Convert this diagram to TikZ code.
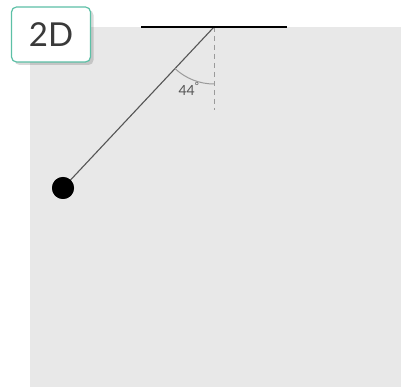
\documentclass[tikz,border=0pt]{standalone}
\usepackage{fontspec}
\setmainfont{Lato}
\usetikzlibrary{shadows,calc}
\definecolor{bg}{HTML}{E8E8E8}
\definecolor{teal2}{HTML}{5CC0A6}
\definecolor{txt}{HTML}{3A3A3A}
\definecolor{rod}{HTML}{555555}
\definecolor{guide}{HTML}{9A9A9A}
\tikzset{
  tagbox/.style={draw=teal2, line width=1.2pt, fill=white, rounded corners=5pt,
    minimum width=79pt, minimum height=55pt, inner sep=0pt, text=txt,
    font=\fontsize{33}{33}\selectfont,
    drop shadow={shadow xshift=3pt, shadow yshift=-3pt, opacity=0.15, fill=black}},
  bobstyle/.style={circle, fill=black, minimum size=22pt, inner sep=0pt},
  rodline/.style={draw=rod, line width=1.1pt},
  guideline/.style={draw=guide, line width=1pt, dash pattern=on 5pt off 4pt},
  arcline/.style={draw=guide, line width=1pt},
  barline/.style={draw=black, line width=2.5pt},
  anglabel/.style={text=rod, font=\fontsize{14}{14}\selectfont, inner sep=0pt}
}
\begin{document}
\begin{tikzpicture}[x=1pt,y=-1pt]
\useasboundingbox (0,0) rectangle (401,387);
\fill[bg] (30,27) rectangle (401,387);
\coordinate (pivot) at (214,27);
\coordinate (barL) at (141,27);
\coordinate (barR) at (287,27);
\coordinate (guideEnd) at (214,110);
\node[bobstyle] (bob) at (63,188) {};
\draw[guideline] (pivot) -- (guideEnd);
\draw[rodline] (pivot) -- (bob.center);
\node[bobstyle] at (bob) {};
\draw[barline] (barL) -- (barR);
\draw[arcline] ($(pivot)+(133.2:57)$) coordinate (arcS) arc[start angle=133.2, end angle=90, radius=57];
\node[anglabel] (ang) at (189,89) {44\textsuperscript{°}};
\node[tagbox] (tag) at (51,34.5) {2D};
\end{tikzpicture}
\end{document}
